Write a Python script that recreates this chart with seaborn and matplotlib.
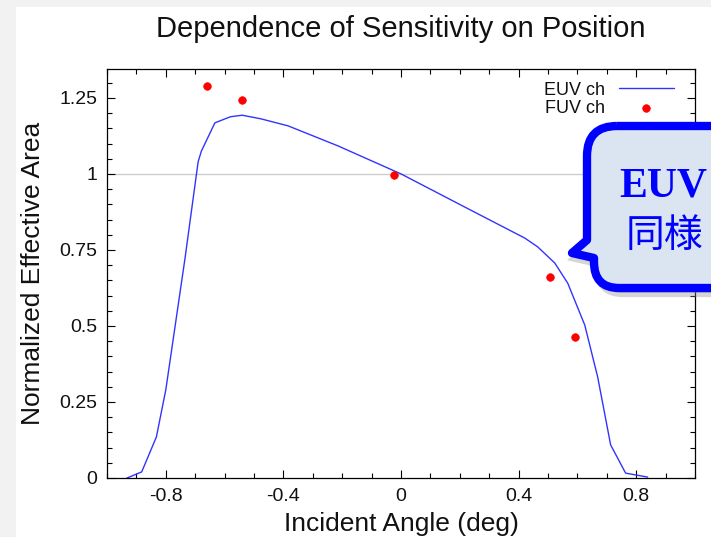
import matplotlib
matplotlib.use("Agg")
import matplotlib.pyplot as plt
import seaborn as sns
import pandas as pd
from matplotlib.path import Path
from matplotlib.patches import PathPatch, Rectangle
from matplotlib.ticker import MultipleLocator, FixedLocator, FixedFormatter

# ---- data ----
euv_x = [-0.932, -0.882, -0.832, -0.80, -0.735, -0.69, -0.679, -0.633, -0.58, -0.54,
         -0.476, -0.384, -0.214, 0.0, 0.217, 0.421, 0.465, 0.523, 0.567, 0.625,
         0.669, 0.713, 0.764, 0.839]
euv_y = [0.0, 0.02, 0.135, 0.29, 0.72, 1.04, 1.075, 1.168, 1.188, 1.193,
         1.181, 1.158, 1.092, 1.0, 0.891, 0.789, 0.76, 0.707, 0.641, 0.503,
         0.332, 0.109, 0.016, 0.003]
fuv_x = [-0.659, -0.54, -0.024, 0.506, 0.591]
fuv_y = [1.289, 1.243, 0.997, 0.661, 0.464]

x_ticks = [-0.8, -0.4, 0, 0.4, 0.8]
x_tick_labels = ["-0.8", "-0.4", "0", "0.4", "0.8"]
y_ticks = [0, 0.25, 0.5, 0.75, 1, 1.25]
y_tick_labels = ["0", "0.25", "0.5", "0.75", "1", "1.25"]

title = "Dependence of Sensitivity on Position"
xlabel = "Incident Angle (deg)"
ylabel = "Normalized Effective Area"
series_names = ["EUV ch", "FUV ch"]
callout_lines = ["EUV", "同様"]

euv_df = pd.DataFrame({"x": euv_x, "y": euv_y})
fuv_df = pd.DataFrame({"x": fuv_x, "y": fuv_y})

sns.set_theme(style="ticks")
plt.rcParams["font.family"] = ["Liberation Sans", "Noto Sans CJK JP", "DejaVu Sans"]
plt.rcParams["axes.unicode_minus"] = False

W, H = 711, 537
fig = plt.figure(figsize=(W / 100, H / 100), dpi=100, facecolor="#f2f2f2")
fig.add_artist(Rectangle((16 / W, 0), 1, 1 - 7 / H, transform=fig.transFigure,
                         facecolor="white", edgecolor="none", zorder=-5))

ax = fig.add_axes([107 / W, 1 - 478 / H, (695 - 107) / W, (478 - 69) / H])
ax.set_facecolor("white")

ax.axhline(1.0, color="#cccccc", lw=1.0, zorder=0)
sns.lineplot(data=euv_df, x="x", y="y", ax=ax, color="#3333ff", lw=1.0,
             sort=False, estimator=None, label=series_names[0])
sns.scatterplot(data=fuv_df, x="x", y="y", ax=ax, color="#ff0000", s=30,
                marker="o", edgecolor="#ff0000", linewidth=0.5,
                label=series_names[1], zorder=3)

ax.set_xlim(-1.0, 1.0)
ax.set_ylim(0, 1.345)
ax.xaxis.set_major_locator(FixedLocator(x_ticks))
ax.xaxis.set_major_formatter(FixedFormatter(x_tick_labels))
ax.xaxis.set_minor_locator(MultipleLocator(0.1))
ax.yaxis.set_major_locator(FixedLocator(y_ticks))
ax.yaxis.set_major_formatter(FixedFormatter(y_tick_labels))
ax.yaxis.set_minor_locator(MultipleLocator(0.05))
ax.tick_params(which="both", direction="in", top=True, right=True, color="black",
               width=0.8)
ax.tick_params(which="major", length=6, labelsize=14, pad=7, labelcolor="#111111")
ax.tick_params(which="minor", length=3.5)
for s in ax.spines.values():
    s.set_color("black")
    s.set_linewidth(0.9)

ax.set_title(title, fontsize=21, pad=23, color="#111111")
ax.set_xlabel(xlabel, fontsize=19, labelpad=5, color="#111111")
ax.set_ylabel(ylabel, fontsize=19, labelpad=10, color="#111111")

leg = ax.legend(loc="upper right", markerfirst=False, frameon=False, fontsize=13,
                handlelength=3.0, handletextpad=0.8, labelspacing=0.05,
                borderaxespad=0.3, bbox_to_anchor=(0.985, 1.0))
for t in leg.get_texts():
    t.set_color("#111111")

# ---- callout bubble (slide overlay), pixel coords with y downward ----
def P(x, y):
    return (x / W, 1 - y / H)

L, T, R, B, r = 587, 126, 760, 288, 30
verts = [P(L + r, T), P(R, T), P(R, B), P(L + r + 2, B), P(L + 7, B), P(L + 7, B - r + 4),
         P(L + 7, 258), P(572, 253), P(L, 240), P(L, T + r), P(L, T), P(L + r, T)]
codes = [Path.MOVETO, Path.LINETO, Path.LINETO, Path.LINETO, Path.CURVE3, Path.CURVE3,
         Path.LINETO, Path.LINETO, Path.LINETO, Path.LINETO, Path.CURVE3, Path.CURVE3]
shadow_verts = [(vx + 4 / W, vy - 5 / H) for vx, vy in verts]
fig.add_artist(PathPatch(Path(shadow_verts, codes), transform=fig.transFigure,
                         facecolor="#888888", edgecolor="#888888", lw=6, alpha=0.35,
                         zorder=8))
fig.add_artist(PathPatch(Path(verts, codes), transform=fig.transFigure,
                         facecolor="#dbe5f1", edgecolor="#0000ff", lw=6,
                         joinstyle="round", zorder=9))
fig.text(619 / W, 1 - 196 / H, callout_lines[0], fontsize=30, fontweight="bold",
         family=["Liberation Serif", "DejaVu Serif"], color="#0000ff",
         ha="left", va="baseline", zorder=10)
fig.text(626 / W, 1 - 236 / H, callout_lines[1], fontsize=28,
         family=["Noto Sans CJK JP", "DejaVu Sans"], color="#0000ff",
         ha="left", va="center", zorder=10)

fig.savefig("out.png", dpi=100, facecolor=fig.get_facecolor())
